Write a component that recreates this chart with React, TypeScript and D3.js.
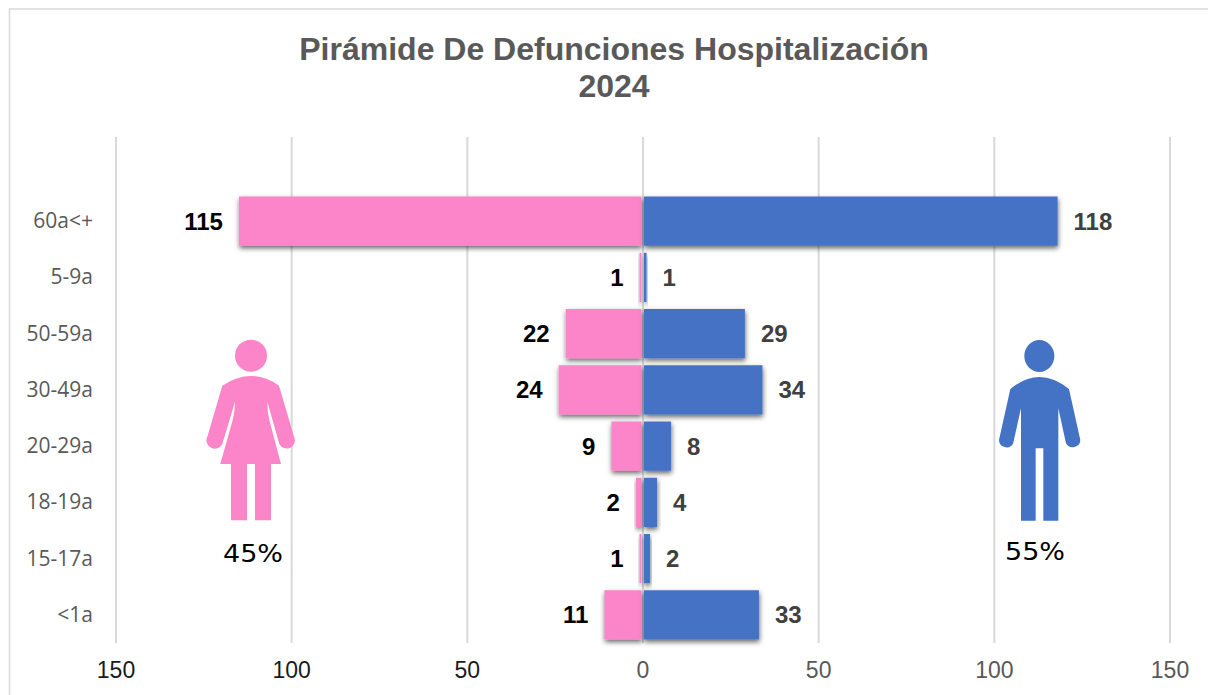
import React from "react";
import * as d3 from "d3";

const W = 1208;
const H = 695;
const categories = ["60a<+", "5-9a", "50-59a", "30-49a", "20-29a", "18-19a", "15-17a", "<1a"];
const mujeres = [115, 1, 22, 24, 9, 2, 1, 11];
const hombres = [118, 1, 29, 34, 8, 4, 2, 33];
const ticks = [-150, -100, -50, 0, 50, 100, 150];
const titleLines = ["Pirámide De Defunciones Hospitalización", "2024"];
const PINK = "#FB85C8";
const BLUE = "#4472C4";
const SANS = "'Liberation Sans', Arial, sans-serif";

const x = d3.scaleLinear().domain([-150, 150]).range([116, 1170]);
const y = d3.scaleBand().domain(categories).range([193, 643]).paddingInner(0.125).paddingOuter(0.0625);

export default function App() {
  const cx = x(0);
  return (
    <svg width={W} height={H} viewBox={`0 0 ${W} ${H}`} style={{ position: "absolute", left: 0, top: 0, background: "#fff" }}>
      <defs>
        <filter id="sh" x="-30%" y="-30%" width="160%" height="170%" filterUnits="objectBoundingBox">
          <feDropShadow dx="0.5" dy="2.5" stdDeviation="2.4" floodColor="#000" floodOpacity="0.6" />
        </filter>
      </defs>
      <path d={`M${W},9H9.5V${H}`} fill="none" stroke="#d9d9d9" strokeWidth={1.5} />
      {titleLines.map((t, i) => (
        <text key={t} x={614} y={60 + i * 37} textAnchor="middle" fontFamily={SANS} fontWeight="bold" fontSize={32} fill="#595959">{t}</text>
      ))}
      {ticks.map((t) => (
        <g key={t}>
          <line x1={x(t)} x2={x(t)} y1={137} y2={643} stroke="#d9d9d9" strokeWidth={2} />
          <text x={x(t)} y={678} textAnchor="middle" fontFamily={SANS} fontSize={23} fill={t >= 0 ? "#595959" : "#1a1a1a"}>{Math.abs(t)}</text>
        </g>
      ))}
      {categories.map((c, i) => {
        const by = y(c)!;
        const h = y.bandwidth();
        const mid = by + h / 2;
        return (
          <g key={c}>
            <text x={93} y={mid + 7} textAnchor="end" fontFamily="'Open Sans', sans-serif" fontSize={21} fill="#595959">{c}</text>
            <rect x={x(-mujeres[i])} y={by} width={cx - 1.5 - x(-mujeres[i])} height={h} fill={PINK} filter="url(#sh)" />
            <rect x={cx + 1} y={by} width={x(hombres[i]) - cx - 1} height={h} fill={BLUE} filter="url(#sh)" />
            <text x={x(-mujeres[i]) - 16} y={mid + 8.5} textAnchor="end" fontFamily={SANS} fontWeight="bold" fontSize={24} fill="#000">{mujeres[i]}</text>
            <text x={x(hombres[i]) + 16} y={mid + 8.5} fontFamily={SANS} fontWeight="bold" fontSize={24} fill="#404040">{hombres[i]}</text>
          </g>
        );
      })}
      <g transform="translate(180,320) scale(0.3333)" fill={PINK}>
        <circle cx={213} cy={107} r={48} />
        <path d="M127,197 Q213,139 297,197 L342,350 A24,24 0 0 1 298,372 L262,245 Q262,275 268,300 L303,432 L273,432 L273,601 L225,601 L225,432 L201,432 L201,601 L153,601 L153,432 L121,432 L158,300 Q165,275 165,245 L127,372 A24,24 0 0 1 82,350 Z" />
      </g>
      <g transform="translate(970,320) scale(0.3333)" fill={BLUE}>
        <ellipse cx={208} cy={108} rx={45} ry={48} />
        <path d="M121,207 Q208,135 297,207 L331,360 A23,23 0 0 1 288,370 L265,265 L265,602 L220,602 L220,385 L197,385 L197,602 L153,602 L153,265 L129,372 A23,23 0 0 1 87,360 Z" />
      </g>
      <text x={253} y={562} textAnchor="middle" fontFamily="'DejaVu Sans', sans-serif" fontSize={24} textLength={60} lengthAdjust="spacingAndGlyphs" fill="#000">45%</text>
      <text x={1035} y={560} textAnchor="middle" fontFamily="'DejaVu Sans', sans-serif" fontSize={24} textLength={60} lengthAdjust="spacingAndGlyphs" fill="#000">55%</text>
    </svg>
  );
}
